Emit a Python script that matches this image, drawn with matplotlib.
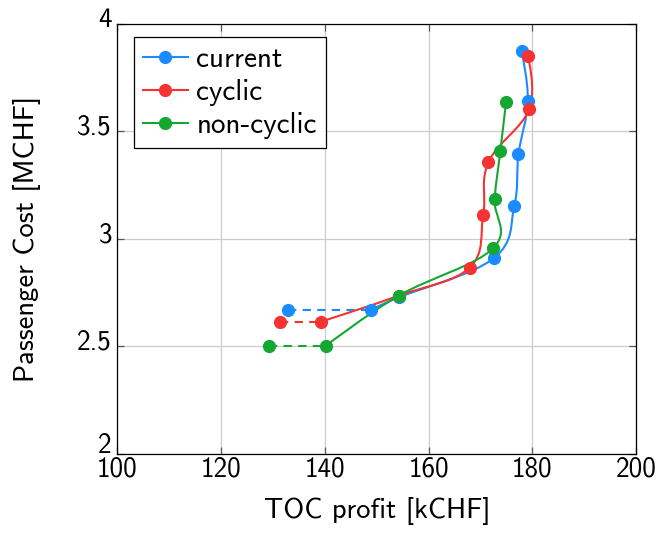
import numpy as np
import matplotlib.pyplot as plt
from matplotlib.path import Path
from matplotlib.patches import PathPatch
from matplotlib.lines import Line2D
from matplotlib.transforms import ScaledTranslation

plt.rcParams['font.family'] = ['cmss10', 'DejaVu Sans']
plt.rcParams['axes.unicode_minus'] = False

# Pareto fronts: TOC profit [kCHF] vs passenger cost [MCHF]
current_x = [148.8, 154.2, 172.5, 176.5, 177.3, 179.1, 177.9]
current_y = [2.670, 2.728, 2.910, 3.155, 3.394, 3.642, 3.876]
cyclic_x = [139.2, 154.2, 167.9, 170.5, 171.5, 179.4, 179.1]
cyclic_y = [2.615, 2.736, 2.867, 3.112, 3.357, 3.605, 3.851]
noncyc_x = [140.2, 154.2, 172.4, 172.7, 173.8, 174.9]
noncyc_y = [2.504, 2.736, 2.957, 3.185, 3.409, 3.636]

# dominated extra solutions joined by dashed segments
current_ext = ([132.9, 148.8], [2.670, 2.670])
cyclic_ext = ([131.3, 139.2], [2.615, 2.615])
noncyc_ext = ([129.3, 140.2], [2.504, 2.504])

labels = ['current', 'cyclic', 'non-cyclic']
colors = ['#1a8cff', '#f53333', '#14a833']


def smooth_path(xs, ys, tension=0.55):
    # bezier through the points, like pgfplots' "smooth" handler
    p = np.column_stack([xs, ys])
    n = len(p)
    verts = [p[0]]
    codes = [Path.MOVETO]
    f = tension / 3.0
    for i in range(n - 1):
        prev = p[i - 1] if i > 0 else p[i]
        nxt = p[i + 2] if i + 2 < n else p[i + 1]
        c1 = p[i] + f * (p[i + 1] - prev) if i > 0 else p[i]
        c2 = p[i + 1] - f * (nxt - p[i]) if i + 2 < n else p[i + 1]
        verts += [c1, c2, p[i + 1]]
        codes += [Path.CURVE4] * 3
    return Path(verts, codes)


fig = plt.figure(figsize=(6.6, 5.34), dpi=100)
ax = fig.add_axes([0.178, 0.150, 0.786, 0.805])

series = [(current_x, current_y, current_ext),
          (cyclic_x, cyclic_y, cyclic_ext),
          (noncyc_x, noncyc_y, noncyc_ext)]
for (xs, ys, ext), c in zip(series, colors):
    ax.add_patch(PathPatch(smooth_path(xs, ys), facecolor='none',
                           edgecolor=c, lw=1.5, zorder=3))
    ax.plot(ext[0], ext[1], color=c, lw=1.5, ls=(0, (4, 3)), zorder=3)
    ax.plot(xs, ys, 'o', color=c, ms=8.5, zorder=4)
    ax.plot(ext[0][:1], ext[1][:1], 'o', color=c, ms=8.5, zorder=4)

ax.set_xlim(100, 200)
ax.set_ylim(2, 4)
ax.set_xticks([100, 120, 140, 160, 180, 200])
ax.set_yticks([2, 2.5, 3, 3.5, 4])
ax.set_yticklabels(['2', '2.5', '3', '3.5', '4'])
ax.grid(True, color='#cccccc', lw=0.9)
ax.set_axisbelow(True)
ax.tick_params(direction='in', top=True, right=True, length=5,
               width=0.9, color='#555555', labelsize=19.5)
ax.tick_params(axis='x', pad=2)
ax.tick_params(axis='y', pad=4)
# lift the y tick labels a little; the bottom one a bit more so it clears "100"
for i, lab in enumerate(ax.get_yticklabels()):
    dy = 8 if i == 0 else 5
    lab.set_transform(lab.get_transform()
                      + ScaledTranslation(0, dy / 72, fig.dpi_scale_trans))
for s in ax.spines.values():
    s.set_linewidth(0.9)
ax.set_xlabel('TOC profit [kCHF]', fontsize=20.5, labelpad=11)
ax.set_ylabel('Passenger Cost [MCHF]', fontsize=20.5, labelpad=26)

handles = [Line2D([], [], color=c, lw=1.5, marker='o', ms=8.5) for c in colors]
leg = ax.legend(handles, labels, loc='upper left', fontsize=21,
                bbox_to_anchor=(0.031, 0.97), fancybox=False, framealpha=1,
                edgecolor='black', handlelength=1.55, handletextpad=0.28,
                borderpad=0.32, labelspacing=0.2, borderaxespad=0)
leg.get_frame().set_linewidth(0.9)

fig.savefig('out.png', dpi=100)
